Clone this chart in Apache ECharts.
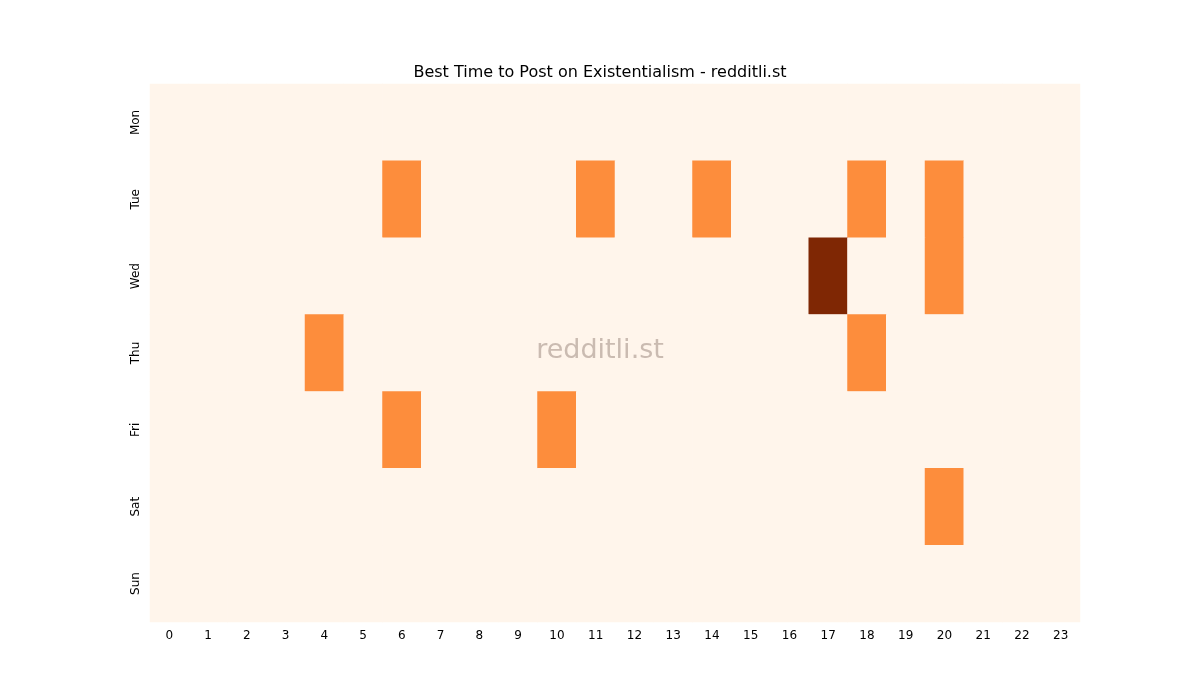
<!DOCTYPE html>
<html><head><meta charset="utf-8">
<script src="https://cdn.jsdelivr.net/npm/echarts@6/dist/echarts.min.js"></script>
<style>html,body{margin:0;padding:0;background:#fff}#c{width:1200px;height:700px}</style>
</head><body><div id="c"></div>
<script>
const hours = Array.from({length:24},(_,i)=>String(i));
const days = ['Mon','Tue','Wed','Thu','Fri','Sat','Sun'];
// [hour, dayIndex, value]
const activeCells = [
  [6,1,1],[11,1,1],[14,1,1],[18,1,1],[20,1,1],
  [17,2,2],[20,2,1],
  [4,3,1],[18,3,1],
  [6,4,1],[10,4,1],
  [20,5,1]
];
const grid = {};
activeCells.forEach(c=>grid[c[0]+'_'+c[1]]=c[2]);
const data = [];
for (let d=0; d<7; d++) for (let h=0; h<24; h++) data.push([h,d,grid[h+'_'+d]||0]);
const chart = echarts.init(document.getElementById('c'));
chart.setOption({
  animation:false,
  title:{text:'Best Time to Post on Existentialism - redditli.st',left:'center',top:60,
    textStyle:{fontFamily:'DejaVu Sans',fontSize:16,fontWeight:'normal',color:'#000'}},
  grid:{left:150,right:120,top:84,bottom:78},
  xAxis:{type:'category',data:hours,axisLine:{show:false},
    axisTick:{alignWithLabel:true,length:5,lineStyle:{color:'#000'}},
    axisLabel:{color:'#000',fontFamily:'DejaVu Sans',fontSize:12,margin:8},splitLine:{show:false}},
  yAxis:{type:'category',data:days,inverse:true,axisLine:{show:false},
    axisTick:{alignWithLabel:true,length:5,lineStyle:{color:'#000'}},
    axisLabel:{color:'#000',fontFamily:'DejaVu Sans',fontSize:12,rotate:90,margin:8},splitLine:{show:false}},
  visualMap:{show:false,min:0,max:2,inRange:{color:['#fff5eb','#fd8d3c','#7f2704']}},
  graphic:[{type:'text',left:'center',top:337,z:100,
    style:{text:'redditli.st',fontSize:27,fontFamily:'DejaVu Sans',fill:'rgba(150,130,120,0.5)'}}],
  series:[{type:'heatmap',data:data,itemStyle:{borderWidth:0},emphasis:{disabled:true}}]
});
</script></body></html>
